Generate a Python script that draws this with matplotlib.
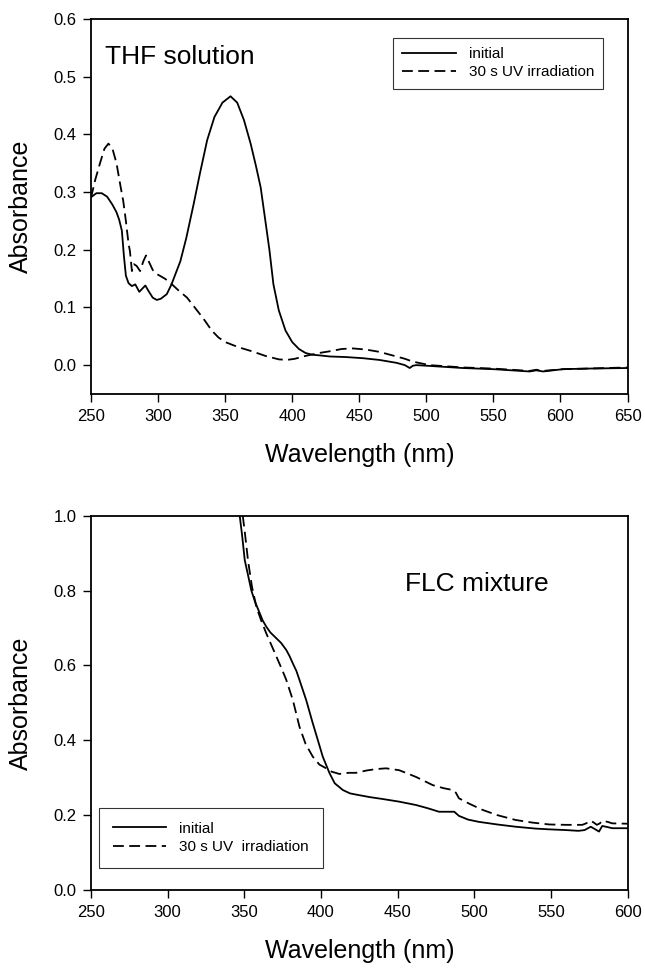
import matplotlib
matplotlib.use("Agg")
import matplotlib.pyplot as plt
import numpy as np

plt.rcParams['font.family'] = ['Liberation Sans', 'DejaVu Sans']

# THF solution, initial (solid)
thf_init_wl = [250, 254, 258, 262, 266, 269, 271, 273, 274.5, 276, 278, 280.5, 283, 286,
               288, 290.5, 293, 296, 299, 302, 306.5, 310, 316.6, 321, 326.6, 331, 336.6,
               342, 348, 354, 359, 364, 369, 373, 376.5, 380, 383, 386, 390, 395, 400,
               405, 410, 415, 420, 428, 440, 452.8, 465, 477.7, 484, 487.6, 490, 492.6,
               500, 527, 550, 577, 582, 587, 602, 620, 650]
thf_init_abs = [0.291, 0.298, 0.298, 0.292, 0.278, 0.265, 0.252, 0.233, 0.19, 0.155, 0.142,
                0.137, 0.140, 0.127, 0.132, 0.138, 0.128, 0.117, 0.113, 0.115, 0.123, 0.14,
                0.18, 0.22, 0.28, 0.33, 0.39, 0.43, 0.455, 0.466, 0.455, 0.425, 0.384,
                0.345, 0.308, 0.25, 0.20, 0.14, 0.095, 0.06, 0.04, 0.028, 0.021, 0.018,
                0.017, 0.015, 0.014, 0.012, 0.009, 0.004, 0.0, -0.005, -0.001, 0.0,
                -0.001, -0.005, -0.007, -0.011, -0.009, -0.011, -0.007, -0.006, -0.005]

# THF solution, 30 s UV (dashed)
thf_uv_wl = [250, 253, 256.7, 260, 263, 266, 269, 272, 274, 276, 278, 279, 280.5, 282, 284,
             286.6, 289, 291, 293, 296, 299, 302, 305, 309, 315, 321.6, 328, 334, 340, 345,
             350, 360, 370, 380, 390, 396, 402, 410, 420, 428, 437, 445, 455, 465, 477.7,
             484, 487.6, 490, 502.5, 527, 550, 577, 582, 587, 602, 620, 650]
thf_uv_abs = [0.29, 0.32, 0.35, 0.375, 0.384, 0.375, 0.35, 0.31, 0.285, 0.25, 0.21, 0.198,
              0.163, 0.175, 0.172, 0.163, 0.18, 0.19, 0.18, 0.165, 0.158, 0.154, 0.15, 0.143,
              0.13, 0.117, 0.098, 0.08, 0.06, 0.048, 0.04, 0.031, 0.024, 0.016, 0.01, 0.009,
              0.011, 0.016, 0.021, 0.024, 0.028, 0.029, 0.027, 0.023, 0.015, 0.011, 0.008,
              0.006, 0.0, -0.004, -0.006, -0.010, -0.008, -0.010, -0.007, -0.006, -0.004]

# FLC mixture, initial (solid)
flc_init_wl = [347, 348.5, 350.3, 352.5, 354.6, 357, 360, 362, 364.4, 367, 371, 374, 377.4,
               379.5, 381.7, 384, 386, 390.4, 394.7, 398, 401.2, 405.6, 409, 414.3, 419, 424,
               432, 440.3, 451, 462, 470, 477, 487, 490, 496, 503, 515, 527, 540, 548.8, 560,
               568, 572, 576, 579, 581.4, 583.5, 587, 590, 600]
flc_init_abs = [1.0, 0.95, 0.881, 0.84, 0.80, 0.77, 0.74, 0.72, 0.703, 0.688, 0.672, 0.66,
                0.641, 0.625, 0.605, 0.585, 0.561, 0.507, 0.445, 0.40, 0.356, 0.312, 0.285,
                0.267, 0.258, 0.254, 0.248, 0.243, 0.236, 0.227, 0.218, 0.209, 0.209, 0.198,
                0.188, 0.182, 0.175, 0.169, 0.164, 0.162, 0.160, 0.158, 0.160, 0.169, 0.162,
                0.156, 0.171, 0.168, 0.165, 0.165]

# FLC mixture, 30 s UV (dashed)
flc_uv_wl = [349, 350.5, 352.4, 355, 357.9, 361, 364.4, 371, 375, 377.4, 381.7, 386, 390,
             394.7, 399, 403.4, 407, 412, 418, 423, 429.5, 436, 442.5, 451, 456, 462, 468,
             473, 480, 486, 488, 490, 497, 505.4, 515, 527, 538, 549, 560, 570.5, 573, 576,
             578, 580, 582, 583.5, 587, 590, 600]
flc_uv_abs = [1.0, 0.95, 0.881, 0.81, 0.756, 0.72, 0.685, 0.623, 0.585, 0.561, 0.507, 0.436,
              0.39, 0.356, 0.335, 0.325, 0.316, 0.31, 0.313, 0.313, 0.319, 0.323, 0.325, 0.32,
              0.312, 0.302, 0.29, 0.28, 0.272, 0.267, 0.26, 0.245, 0.23, 0.214, 0.2, 0.187,
              0.18, 0.175, 0.174, 0.174, 0.178, 0.185, 0.18, 0.174, 0.178, 0.185, 0.182,
              0.178, 0.177]

labels_top = ["initial", "30 s UV irradiation"]
labels_bottom = ["initial", "30 s UV  irradiation"]


def style_axes(ax, xticks, yticks):
    ax.set_xticks(xticks)
    ax.set_yticks(yticks)
    ax.set_yticklabels(["%.1f" % v for v in yticks])
    ax.tick_params(direction='out', length=5.5, width=1.0, labelsize=12, pad=5,
                   top=False, right=False)
    for s in ax.spines.values():
        s.set_linewidth(1.3)
    ax.set_xlabel("Wavelength (nm)", fontsize=18, labelpad=14)
    ax.set_ylabel("Absorbance", fontsize=18, labelpad=15)


fig = plt.figure(figsize=(6.45, 9.68), dpi=100)

ax1 = fig.add_axes([0.1411, 0.5930, 0.8318, 0.3874])
ax1.plot(thf_init_wl, thf_init_abs, color='black', lw=1.3, label=labels_top[0])
ax1.plot(thf_uv_wl, thf_uv_abs, color='black', lw=1.3, dashes=(6, 3), label=labels_top[1])
ax1.set_xlim(250, 650)
ax1.set_ylim(-0.05, 0.6)
style_axes(ax1, np.arange(250, 651, 50), np.round(np.arange(0, 0.61, 0.1), 1))
ax1.text(0.026, 0.88, "THF solution", transform=ax1.transAxes, fontsize=19)
leg1 = ax1.legend(loc='upper right', bbox_to_anchor=(0.955, 0.95), borderaxespad=0,
                  fontsize=11, fancybox=False, edgecolor='black', handlelength=3.5,
                  handletextpad=0.85, borderpad=0.6, labelspacing=0.3)
leg1.get_frame().set_linewidth(0.8)

ax2 = fig.add_axes([0.1411, 0.0806, 0.8318, 0.3867])
ax2.plot(flc_init_wl, flc_init_abs, color='black', lw=1.3, label=labels_bottom[0])
ax2.plot(flc_uv_wl, flc_uv_abs, color='black', lw=1.3, dashes=(6, 3), label=labels_bottom[1])
ax2.set_xlim(250, 600)
ax2.set_ylim(0, 1.0)
style_axes(ax2, np.arange(250, 601, 50), np.round(np.arange(0, 1.01, 0.2), 1))
ax2.text(0.586, 0.8, "FLC mixture", transform=ax2.transAxes, fontsize=19)
leg2 = ax2.legend(loc='lower left', bbox_to_anchor=(0.0149, 0.0588), borderaxespad=0,
                  fontsize=11, fancybox=False, edgecolor='black', handlelength=3.5,
                  handletextpad=0.85, borderpad=0.9, labelspacing=0.3)
leg2.get_frame().set_linewidth(0.8)

fig.savefig("out.png", dpi=100)
